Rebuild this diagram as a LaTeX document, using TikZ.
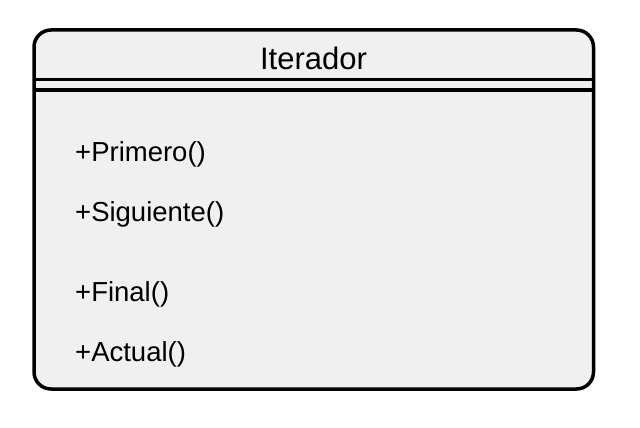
\documentclass[tikz,border=0pt]{standalone}
\usepackage{fontspec}
\setmainfont{Liberation Sans}
\begin{document}
\begin{tikzpicture}[x=1pt,y=-1pt,
  boxline/.style={line width=3.5pt},
  sepline/.style={line width=3pt},
  member/.style={anchor=base west,inner sep=0pt,font=\fontsize{27.5}{32}\selectfont},
  title/.style={anchor=base,inner sep=0pt,font=\fontsize{31}{36}\selectfont}]
\useasboundingbox (0,0) rectangle (640,428);
\draw[boxline,fill={rgb,255:red,240;green,240;blue,240},rounded corners=17pt] (34,30) rectangle (593.5,389);
\coordinate (l1) at (34,80); \coordinate (r1) at (593.5,80);
\coordinate (l2) at (34,90); \coordinate (r2) at (593.5,90);
\draw[sepline] (l1) -- (r1);
\draw[sepline] (l2) -- (r2);
\node[title] (t) at (313.5,70) {Iterador};
\node[member] (m1) at (75,161) {+Primero()};
\node[member] (m2) at (75,221) {+Siguiente()};
\node[member] (m3) at (75,301.5) {+Final()};
\node[member] (m4) at (75,361) {+Actual()};
\end{tikzpicture}
\end{document}
